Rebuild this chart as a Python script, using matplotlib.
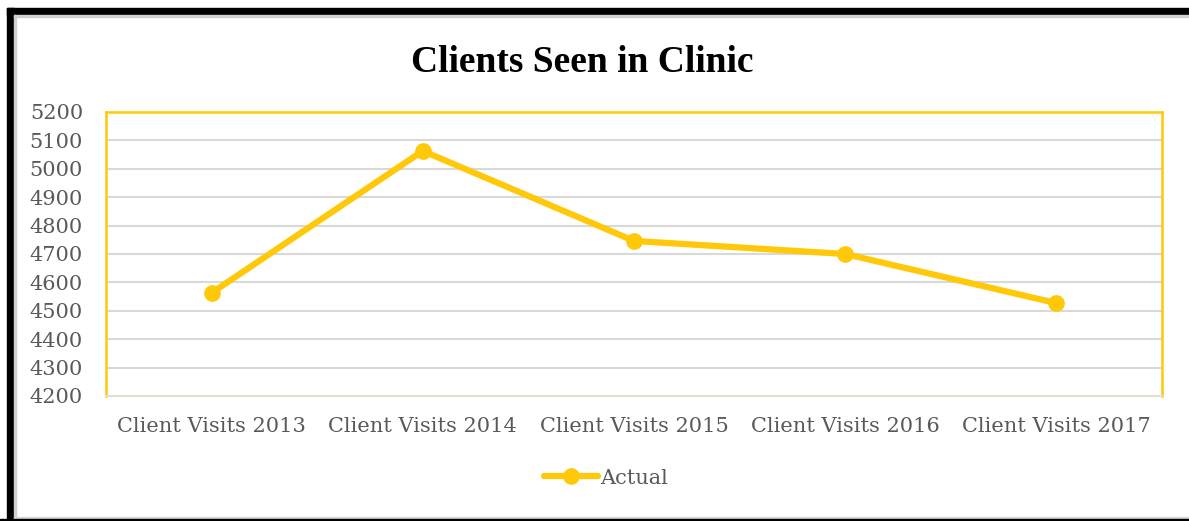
import matplotlib.pyplot as plt
from matplotlib.patches import Rectangle
from matplotlib.lines import Line2D

# chart data
categories = ['Client Visits 2013', 'Client Visits 2014', 'Client Visits 2015',
              'Client Visits 2016', 'Client Visits 2017']
actual = [4563, 5063, 4746, 4700, 4527]
yticks = [4200, 4300, 4400, 4500, 4600, 4700, 4800, 4900, 5000, 5100, 5200]

W, H = 1189, 521
gold = '#FFC808'
grey_txt = '#595959'
tick_font = 'DejaVu Serif'

fig = plt.figure(figsize=(W / 100, H / 100), dpi=100)
fig.patch.set_facecolor('white')

# plot area in pixel coords -> figure fractions
x0, x1, ytop, ybot = 106, 1162, 112, 396
ax = fig.add_axes([x0 / W, 1 - ybot / H, (x1 - x0) / W, (ybot - ytop) / H])

xs = list(range(len(categories)))
ax.plot(xs, actual, color=gold, lw=4.5, marker='o', ms=11, solid_capstyle='round', zorder=3)

ax.set_xlim(-0.5, len(categories) - 0.5)
ax.set_ylim(4200, 5200)
ax.set_yticks(yticks)
ax.set_xticks(xs)
ax.set_xticklabels(categories)
ax.yaxis.grid(True, color='#D9D9D9', lw=1.5)
ax.set_axisbelow(True)
ax.tick_params(length=0, labelsize=15, labelcolor=grey_txt)
ax.tick_params(axis='y', pad=16.5)
ax.tick_params(axis='x', pad=15)
for lbl in ax.get_xticklabels() + ax.get_yticklabels():
    lbl.set_family(tick_font)
for s in ['left', 'top', 'right']:
    ax.spines[s].set_color(gold)
    ax.spines[s].set_linewidth(1.8)
ax.spines['bottom'].set_color('#E6DFCF')
ax.spines['bottom'].set_linewidth(1.5)

fig.text(582 / W, 1 - 62 / H, 'Clients Seen in Clinic', ha='center', va='center',
         fontsize=27, fontweight='bold', family='Liberation Serif', color='black')

# legend
handle = Line2D([], [], color=gold, lw=4.5, marker='o', ms=11, solid_capstyle='round')
fig.legend([handle], ['Actual'], loc='center', bbox_to_anchor=(606 / W, 1 - 478 / H),
           frameon=False, handlelength=2.6, handletextpad=0.1,
           prop={'family': tick_font, 'size': 15}, labelcolor=grey_txt)

# outer frame
fig.patches.append(Rectangle((7 / W, 1 - 15 / H), 1 - 7 / W, 7 / H, transform=fig.transFigure,
                             color='black', zorder=5))
fig.patches.append(Rectangle((7 / W, 0), 7 / W, 1 - 8 / H, transform=fig.transFigure,
                             color='black', zorder=5))
fig.patches.append(Rectangle((14 / W, 1 - 17 / H), 1 - 14 / W, 2 / H, transform=fig.transFigure,
                             color='#D0D0D0', zorder=5))
fig.patches.append(Rectangle((14 / W, 0), 2 / W, 1 - 15 / H, transform=fig.transFigure,
                             color='#D0D0D0', zorder=5))
fig.patches.append(Rectangle((14 / W, 2 / H), 1 - 14 / W, 2 / H, transform=fig.transFigure,
                             color='#D9D9D9', zorder=5))
fig.patches.append(Rectangle((0, 0), 1, 2 / H, transform=fig.transFigure,
                             color='black', zorder=5))

fig.savefig('out.png', dpi=100)
